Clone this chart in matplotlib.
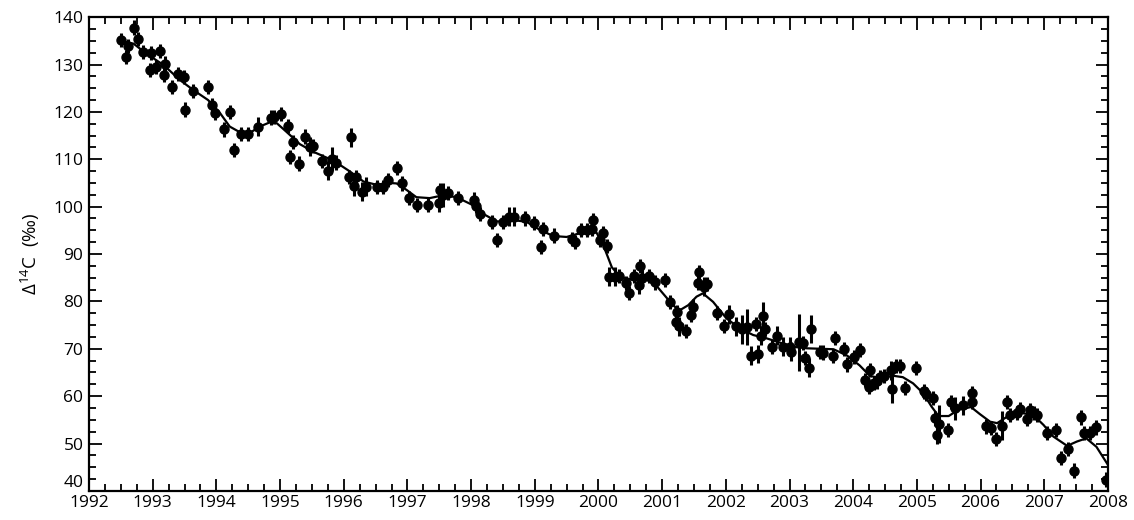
import numpy as np
import matplotlib
matplotlib.use("Agg")
import matplotlib.pyplot as plt
from matplotlib.ticker import MultipleLocator

# measured points: decimal year, D14C (permil), 1-sigma error
years = [1992.51, 1992.58, 1992.61, 1992.71, 1992.77, 1992.84, 1992.96, 1992.97,
         1993.05, 1993.12, 1993.17, 1993.19, 1993.30, 1993.39, 1993.49, 1993.51,
         1993.64, 1993.87, 1993.93, 1993.98, 1994.12, 1994.21, 1994.27, 1994.39,
         1994.49, 1994.66, 1994.86, 1994.91, 1995.02, 1995.13, 1995.15, 1995.21,
         1995.29, 1995.39, 1995.47, 1995.52, 1995.66, 1995.76, 1995.81, 1995.88,
         1996.08, 1996.11, 1996.16, 1996.20, 1996.28, 1996.35, 1996.52, 1996.61,
         1996.69, 1996.83, 1996.92, 1997.03, 1997.15, 1997.33, 1997.50, 1997.51,
         1997.56, 1997.63, 1997.80, 1998.05, 1998.08, 1998.14, 1998.33, 1998.40,
         1998.50, 1998.60, 1998.67, 1998.85, 1998.98, 1999.10, 1999.13, 1999.30,
         1999.58, 1999.63, 1999.72, 1999.82, 1999.90, 1999.92, 2000.03, 2000.07,
         2000.14, 2000.17, 2000.26, 2000.32, 2000.43, 2000.48, 2000.56, 2000.64,
         2000.65, 2000.69, 2000.80, 2000.89, 2001.05, 2001.13, 2001.22, 2001.24,
         2001.27, 2001.37, 2001.45, 2001.48, 2001.56, 2001.58, 2001.65, 2001.71,
         2001.86, 2001.97, 2002.05, 2002.16, 2002.25, 2002.34, 2002.39, 2002.47,
         2002.51, 2002.56, 2002.59, 2002.62, 2002.72, 2002.81, 2002.89, 2003.01,
         2003.02, 2003.15, 2003.21, 2003.24, 2003.30, 2003.34, 2003.48, 2003.52,
         2003.69, 2003.71, 2003.86, 2003.90, 2004.02, 2004.10, 2004.18, 2004.25,
         2004.26, 2004.32, 2004.37, 2004.42, 2004.48, 2004.60, 2004.61, 2004.67,
         2004.74, 2004.81, 2004.99, 2005.11, 2005.15, 2005.25, 2005.28, 2005.32,
         2005.35, 2005.49, 2005.53, 2005.60, 2005.72, 2005.86, 2005.87, 2006.09,
         2006.16, 2006.24, 2006.33, 2006.42, 2006.47, 2006.57, 2006.62, 2006.73,
         2006.78, 2006.84, 2006.89, 2007.05, 2007.18, 2007.27, 2007.38, 2007.47,
         2007.58, 2007.62, 2007.72, 2007.82, 2007.97]

d14c = [135.1, 131.6, 133.9, 137.8, 135.4, 132.7, 128.8, 132.5,
        129.5, 132.9, 127.8, 130.2, 125.3, 128.0, 127.4, 120.5,
        124.4, 125.2, 121.4, 119.7, 116.3, 119.9, 111.9, 115.3,
        115.3, 116.9, 118.8, 119.0, 119.5, 117.0, 110.5, 113.7,
        109.1, 114.8, 112.6, 112.8, 109.6, 107.6, 110.0, 109.3,
        106.2, 114.6, 104.3, 106.3, 103.1, 104.2, 104.2, 104.2,
        105.6, 108.2, 104.9, 101.8, 100.3, 100.3, 100.8, 103.5,
        102.4, 102.8, 101.8, 101.5, 100.1, 98.4, 96.8, 93.0,
        96.8, 97.9, 97.9, 97.5, 96.5, 91.5, 95.3, 93.9,
        93.1, 92.5, 95.1, 95.1, 95.3, 97.2, 93.0, 94.5,
        91.7, 85.2, 85.2, 85.4, 83.8, 81.7, 85.4, 83.5,
        87.5, 84.9, 85.4, 84.0, 84.5, 79.9, 75.7, 77.8,
        74.7, 73.8, 77.1, 78.9, 83.8, 86.1, 83.1, 83.6,
        77.5, 74.8, 77.3, 74.7, 74.1, 74.5, 68.5, 75.2,
        68.9, 72.7, 76.9, 74.2, 70.4, 72.7, 70.4, 70.4,
        69.4, 71.4, 71.2, 68.0, 66.0, 74.2, 69.4, 69.2,
        68.5, 72.2, 69.9, 66.7, 68.2, 69.7, 63.4, 61.9,
        65.5, 62.7, 63.1, 64.0, 64.3, 65.5, 61.6, 66.4,
        66.4, 61.7, 65.9, 61.0, 60.4, 59.6, 55.3, 51.8,
        54.1, 52.9, 58.8, 57.4, 58.1, 60.7, 58.8, 53.6,
        53.2, 51.0, 53.8, 58.7, 56.0, 56.5, 57.3, 55.1,
        57.1, 56.4, 56.0, 52.2, 52.9, 46.9, 48.8, 44.3,
        55.5, 52.2, 52.2, 53.4, 42.4]

errors = [1.5, 1.5, 1.5, 1.5, 1.5, 1.5, 1.5, 1.5,
          1.5, 1.5, 1.5, 1.5, 1.5, 1.5, 1.5, 1.5,
          1.5, 1.5, 1.5, 1.5, 1.5, 1.5, 1.5, 1.5,
          1.5, 2.0, 1.5, 1.5, 1.5, 1.5, 1.5, 1.5,
          1.5, 1.5, 2.0, 1.5, 1.5, 2.0, 2.5, 1.5,
          1.5, 2.0, 2.0, 1.5, 2.0, 2.0, 1.5, 1.5,
          1.5, 1.5, 1.5, 1.5, 1.5, 1.5, 2.0, 1.5,
          2.5, 1.5, 1.5, 1.5, 1.5, 1.5, 1.5, 1.5,
          1.5, 2.0, 2.0, 1.5, 1.5, 1.5, 1.5, 1.5,
          1.5, 1.5, 1.5, 1.5, 1.5, 1.5, 1.5, 1.5,
          1.5, 2.0, 2.0, 1.5, 1.5, 1.5, 1.5, 2.0,
          1.5, 2.0, 1.5, 1.5, 1.5, 1.5, 1.5, 1.5,
          2.0, 1.5, 1.5, 1.5, 1.5, 1.5, 2.0, 1.5,
          1.5, 1.5, 2.0, 2.0, 3.0, 3.8, 2.0, 1.5,
          2.0, 2.0, 3.0, 1.5, 1.5, 2.0, 2.0, 2.0,
          2.0, 6.0, 1.5, 1.5, 2.0, 3.0, 1.5, 1.5,
          1.5, 1.5, 1.5, 1.5, 1.5, 1.5, 1.5, 1.5,
          1.5, 1.5, 1.5, 1.5, 1.5, 2.0, 3.0, 1.5,
          1.5, 1.5, 1.5, 1.5, 1.5, 1.5, 1.5, 2.0,
          4.0, 1.5, 1.5, 2.5, 2.0, 1.5, 1.5, 1.5,
          1.5, 1.5, 3.0, 1.5, 1.5, 1.5, 1.5, 1.5,
          1.5, 1.5, 1.5, 1.5, 1.5, 1.5, 1.5, 1.5,
          1.5, 1.5, 1.5, 1.5, 1.5]

# fitted smooth curve
fit_years = [1992.50, 1992.70, 1992.90, 1993.17, 1993.43, 1993.64, 1993.87, 1994.06,
             1994.21, 1994.37, 1994.53, 1994.68, 1994.84, 1994.95, 1995.10, 1995.31,
             1995.52, 1995.84, 1996.10, 1996.31, 1996.52, 1996.72, 1996.83, 1996.99,
             1997.14, 1997.35, 1997.56, 1997.77, 1998.00, 1998.20, 1998.40, 1998.55,
             1998.70, 1998.87, 1999.08, 1999.29, 1999.50, 1999.71, 1999.87, 1999.97,
             2000.08, 2000.21, 2000.34, 2000.55, 2000.74, 2000.91, 2001.10, 2001.26,
             2001.41, 2001.54, 2001.64, 2001.80, 2002.01, 2002.22, 2002.43, 2002.64,
             2002.85, 2003.06, 2003.27, 2003.48, 2003.69, 2003.90, 2004.10, 2004.26,
             2004.42, 2004.63, 2004.78, 2004.94, 2005.10, 2005.23, 2005.34, 2005.50,
             2005.65, 2005.85, 2005.99, 2006.15, 2006.26, 2006.41, 2006.62, 2006.83,
             2006.99, 2007.14, 2007.36, 2007.51, 2007.66, 2007.82, 2008.00]
fit_d14c = [135.0, 134.4, 132.3, 129.9, 126.7, 124.6, 122.5, 119.7,
            116.9, 115.7, 115.6, 116.9, 117.8, 117.6, 115.8, 113.2,
            111.6, 109.7, 107.4, 105.3, 104.6, 105.0, 104.9, 103.5,
            102.0, 101.8, 102.4, 102.0, 100.5, 98.4, 96.9, 96.8,
            97.1, 96.8, 95.1, 93.8, 93.6, 94.4, 95.0, 94.5,
            91.7, 87.2, 85.2, 84.5, 84.7, 83.3, 80.3, 78.0,
            79.2, 81.0, 81.7, 79.9, 76.4, 74.3, 72.9, 72.2,
            71.3, 70.4, 70.1, 70.0, 69.9, 68.6, 66.5, 64.3,
            63.8, 64.3, 64.0, 62.7, 60.6, 57.8, 55.8, 55.8,
            57.1, 57.7, 56.2, 54.6, 54.3, 55.6, 56.5, 56.0,
            53.9, 51.5, 49.5, 50.4, 51.1, 49.3, 45.5]

plt.rcParams['font.family'] = ['Open Sans', 'DejaVu Sans']
plt.rcParams['mathtext.default'] = 'regular'

fig, ax = plt.subplots(figsize=(11.34, 5.2), dpi=100)
fig.subplots_adjust(left=0.0785, right=0.977, top=0.967, bottom=0.056)

ax.plot(fit_years, fit_d14c, color='black', lw=1.6, zorder=2)
ax.errorbar(years, d14c, yerr=errors, fmt='o', color='black', ms=6.5,
            elinewidth=2.2, capsize=0, zorder=3)

ax.set_xlim(1992, 2008)
ax.set_ylim(40, 140)
ax.xaxis.set_major_locator(MultipleLocator(1))
ax.xaxis.set_minor_locator(MultipleLocator(0.25))
ax.yaxis.set_major_locator(MultipleLocator(10))
ax.yaxis.set_minor_locator(MultipleLocator(2.5))
ax.tick_params(which='both', direction='in', top=True, right=True,
               labelsize=12.5, width=1.3, color='black')
ax.tick_params(which='major', length=9)
ax.tick_params(which='minor', length=5)
ax.tick_params(axis='x', pad=3)
ax.tick_params(axis='y', pad=4)
for sp in ax.spines.values():
    sp.set_linewidth(1.6)

ax.set_ylabel(r'$\Delta^{14}$C  (‰)', fontsize=13.5, labelpad=8)

# lowest y label sits above its tick so it clears the "1992" label
fig.canvas.draw()
for tick in ax.yaxis.get_major_ticks():
    if abs(tick.get_loc() - 40) < 1e-6:
        tick.label1.set_verticalalignment('bottom')

fig.savefig('out.png', dpi=100)
